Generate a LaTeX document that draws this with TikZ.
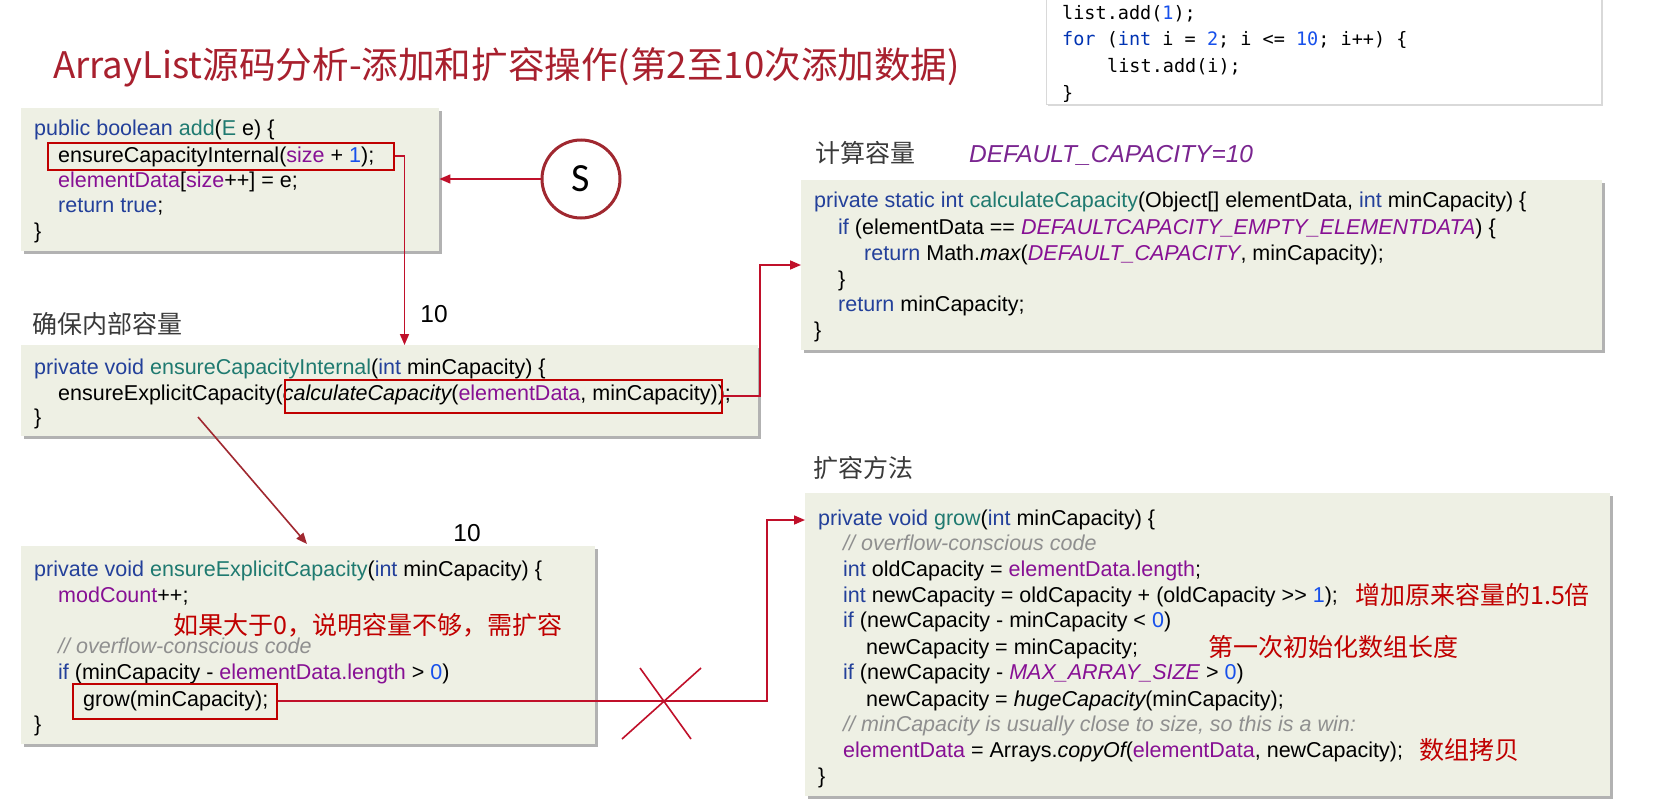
\documentclass[tikz,border=0pt]{standalone}
\usepackage{fontspec}
\setmainfont{Liberation Sans}
\newfontfamily\zcjk{Noto Sans CJK SC}
\newfontfamily\zmono{DejaVu Sans Mono}
\newfontfamily\zcal{Carlito}
\usetikzlibrary{arrows.meta,shadows}
\definecolor{zbg}{RGB}{238,240,228}
\definecolor{zkwc}{HTML}{23409A}
\definecolor{zfnc}{HTML}{1F7A70}
\definecolor{zfdc}{HTML}{871094}
\definecolor{znmc}{HTML}{1750EB}
\definecolor{zcmc}{HTML}{8F8F8F}
\definecolor{zred}{HTML}{C00000}
\definecolor{zline}{HTML}{C0102A}
\definecolor{zdark}{HTML}{A02830}
\definecolor{ztitle}{HTML}{A8202E}
\definecolor{zlab}{HTML}{3A3A3A}
\definecolor{zmkw}{HTML}{0033B3}
\definecolor{zcst}{HTML}{7A2590}
\newcommand\zkw[1]{\textcolor{zkwc}{#1}}
\newcommand\zfn[1]{\textcolor{zfnc}{#1}}
\newcommand\zfd[1]{\textcolor{zfdc}{#1}}
\newcommand\znm[1]{\textcolor{znmc}{#1}}
\newcommand\zcm[1]{\textcolor{zcmc}{\itshape #1}}
\newcommand\zcs[1]{\textcolor{zfdc}{\itshape #1}}
\newcommand\zit[1]{{\itshape #1}}
\begin{document}
\begin{tikzpicture}[x=1pt,y=-1pt,
  codebox/.style={draw=none, fill=zbg, anchor=north west, inner sep=0pt,
     drop shadow={shadow xshift=3pt, shadow yshift=-3pt, fill=black, opacity=0.3}},
  code/.style={anchor=base west, inner sep=0pt, font=\fontsize{21.5}{25}\selectfont, text=black},
  mcode/.style={anchor=base west, inner sep=0pt, font=\zmono\fontsize{18.5}{22}\selectfont, text=black},
  lab/.style={anchor=west, inner sep=0pt, font=\zcjk\fontsize{25}{28}\selectfont, text=zlab},
  ann/.style={anchor=west, inner sep=0pt, font=\zcjk\fontsize{25}{28}\selectfont, text=zred},
  num/.style={inner sep=0pt, font=\fontsize{24.5}{28}\selectfont, text=black},
  hl/.style={draw=zred, line width=1.5pt, anchor=north west, inner sep=0pt},
  arr/.style={draw=zline, line width=1.6pt, -{Triangle[length=11pt,width=9pt]}},
  xline/.style={draw=zline, line width=1.6pt}
]
\useasboundingbox (0,0) rectangle (1660,811);
\fill[white] (0,0) rectangle (1660,811);

% title
\node[anchor=west, inner sep=0pt, font=\zcjk\fontsize{36.6}{40}\selectfont, text=ztitle] (title) at (53,67)
  {ArrayList源码分析-添加和扩容操作(第2至10次添加数据)};

% top right code
\node[draw=black!15, fill=white, anchor=north west, inner sep=0pt, minimum width=555pt, minimum height=109pt,
   drop shadow={shadow xshift=2pt, shadow yshift=-2pt, fill=black, opacity=0.15}] (tb) at (1046,-5) {};
\node[mcode] (m1) at (1062,19.5) {list.add(\textcolor{znmc}{1});};
\node[mcode] (m2) at (1062,45.5) {\textcolor{zmkw}{for} (\textcolor{zmkw}{int} i = \textcolor{znmc}{2}; i <= \textcolor{znmc}{10}; i++) \{};
\node[mcode] (m3) at (1107,72.5) {list.add(i);};
\node[mcode] (m4) at (1062,99.5) {\}};

% box 1
\node[codebox, minimum width=418pt, minimum height=143pt] (b1) at (21,108) {};
\node[code] (a1) at (34,135.5) {\zkw{public boolean} \zfn{add}(\zfn{E} e) \{};
\node[code] (a2) at (58,162.5) {ensureCapacityInternal(\zfd{size} + \znm{1});};
\node[code] (a3) at (58,187.5) {\zfd{elementData}[\zfd{size}++] = e;};
\node[code] (a4) at (58,212.5) {\zkw{return true};};
\node[code] (a5) at (34,238.5) {\}};
\node[hl, minimum width=346pt, minimum height=27pt] (hl1) at (47,142) {};

% S circle
\node[circle, draw=zdark, line width=3pt, fill=white, minimum size=78pt, inner sep=0pt,
   font=\zcal\fontsize{40}{44}\selectfont] (sc) at (581,179) {S};
\draw[arr] (sc.west) -- (b1.east |- sc.west);

% label 1
\node[lab] (lab1) at (32,324) {确保内部容量};
\node[num] (n1) at (434,314) {10};

% box 2
\node[codebox, minimum width=737pt, minimum height=91pt] (b2) at (21,345) {};
\node[code] (e1) at (34,374.5) {\zkw{private void} \zfn{ensureCapacityInternal}(\zkw{int} minCapacity) \{};
\node[code] (e2) at (58,400.5) {ensureExplicitCapacity(\zit{calculateCapacity}(\zfd{elementData}, minCapacity));};
\node[code] (e3) at (34,424.5) {\}};
\node[hl, minimum width=437pt, minimum height=33pt] (hl2) at (284,379) {};

\draw[arr] (hl1.east) -- ++(10,0) coordinate (k1) -- (k1 |- b2.north);

% box 3
\node[lab] (lab3) at (815,153) {计算容量};
\node[anchor=west, inner sep=0pt, font=\itshape\fontsize{24.5}{28}\selectfont, text=zcst] (dc) at (969,155) {DEFAULT\_CAPACITY=10};
\node[codebox, minimum width=801pt, minimum height=170pt] (b3) at (801,180) {};
\node[code] (c1) at (814,207.5) {\zkw{private static int} \zfn{calculateCapacity}(Object[] elementData, \zkw{int} minCapacity) \{};
\node[code] (c2) at (838,234) {\zkw{if} (elementData == \zcs{DEFAULTCAPACITY\_EMPTY\_ELEMENTDATA}) \{};
\node[code] (c3) at (864,260.5) {\zkw{return} Math.\zit{max}(\zcs{DEFAULT\_CAPACITY}, minCapacity);};
\node[code] (c4) at (838,286) {\}};
\node[code] (c5) at (838,311.5) {\zkw{return} minCapacity;};
\node[code] (c6) at (814,337.5) {\}};

\coordinate (v3) at (760,265);
\draw[arr] (hl2.east) -| (v3) -- (v3 -| b3.west);

% box 4
\coordinate (d1) at (198,417);
\coordinate (d2) at (307,544);
\draw[arr, draw=zdark] (d1) -- (d2);
\node[num] (n2) at (467,533) {10};
\node[codebox, minimum width=574pt, minimum height=198pt] (b4) at (21,546) {};
\node[code] (f1) at (34,576.5) {\zkw{private void} \zfn{ensureExplicitCapacity}(\zkw{int} minCapacity) \{};
\node[code] (f2) at (58,602.5) {\zfd{modCount}++;};
\node[ann] (an1) at (173,625) {如果大于0，说明容量不够，需扩容};
\node[code] (f3) at (58,653.5) {\zcm{// overflow-conscious code}};
\node[code] (f4) at (58,679.5) {\zkw{if} (minCapacity - \zfd{elementData.length} > \znm{0})};
\node[code] (f5) at (83,706.5) {grow(minCapacity);};
\node[code] (f6) at (34,731.5) {\}};
\node[hl, minimum width=204pt, minimum height=35pt] (hl3) at (72,683) {};

% box 5
\node[lab] (lab5) at (813,468) {扩容方法};
\node[codebox, minimum width=805pt, minimum height=303pt] (b5) at (805,493) {};
\node[code] (g1) at (818,525.5) {\zkw{private void} \zfn{grow}(\zkw{int} minCapacity) \{};
\node[code] (g2) at (843,550.5) {\zcm{// overflow-conscious code}};
\node[code] (g3) at (843,576.5) {\zkw{int} oldCapacity = \zfd{elementData.length};};
\node[code] (g4) at (843,602.5) {\zkw{int} newCapacity = oldCapacity + (oldCapacity >{}> \znm{1});};
\node[code] (g5) at (843,627.5) {\zkw{if} (newCapacity - minCapacity < \znm{0})};
\node[code] (g6) at (866,654.5) {newCapacity = minCapacity;};
\node[code] (g7) at (843,679.5) {\zkw{if} (newCapacity - \zcs{MAX\_ARRAY\_SIZE} > \znm{0})};
\node[code] (g8) at (866,706.5) {newCapacity = \zit{hugeCapacity}(minCapacity);};
\node[code] (g9) at (843,731.5) {\zcm{// minCapacity is usually close to size, so this is a win:}};
\node[code] (g10) at (843,757.5) {\zfd{elementData} = Arrays.\zit{copyOf}(\zfd{elementData}, newCapacity);};
\node[code] (g11) at (818,783.5) {\}};
\node[ann] (an2) at (1355,595) {增加原来容量的1.5倍};
\node[ann] (an3) at (1208,647) {第一次初始化数组长度};
\node[ann] (an4) at (1419,750) {数组拷贝};

\coordinate (v5) at (767,520);
\draw[arr] (hl3.east) -| (v5) -- (v5 -| b5.west);

% cross
\coordinate (x1) at (640,668);
\coordinate (x2) at (691,739);
\coordinate (x3) at (701,668);
\coordinate (x4) at (622,739);
\draw[xline] (x1) -- (x2);
\draw[xline] (x3) -- (x4);
\end{tikzpicture}
\end{document}
